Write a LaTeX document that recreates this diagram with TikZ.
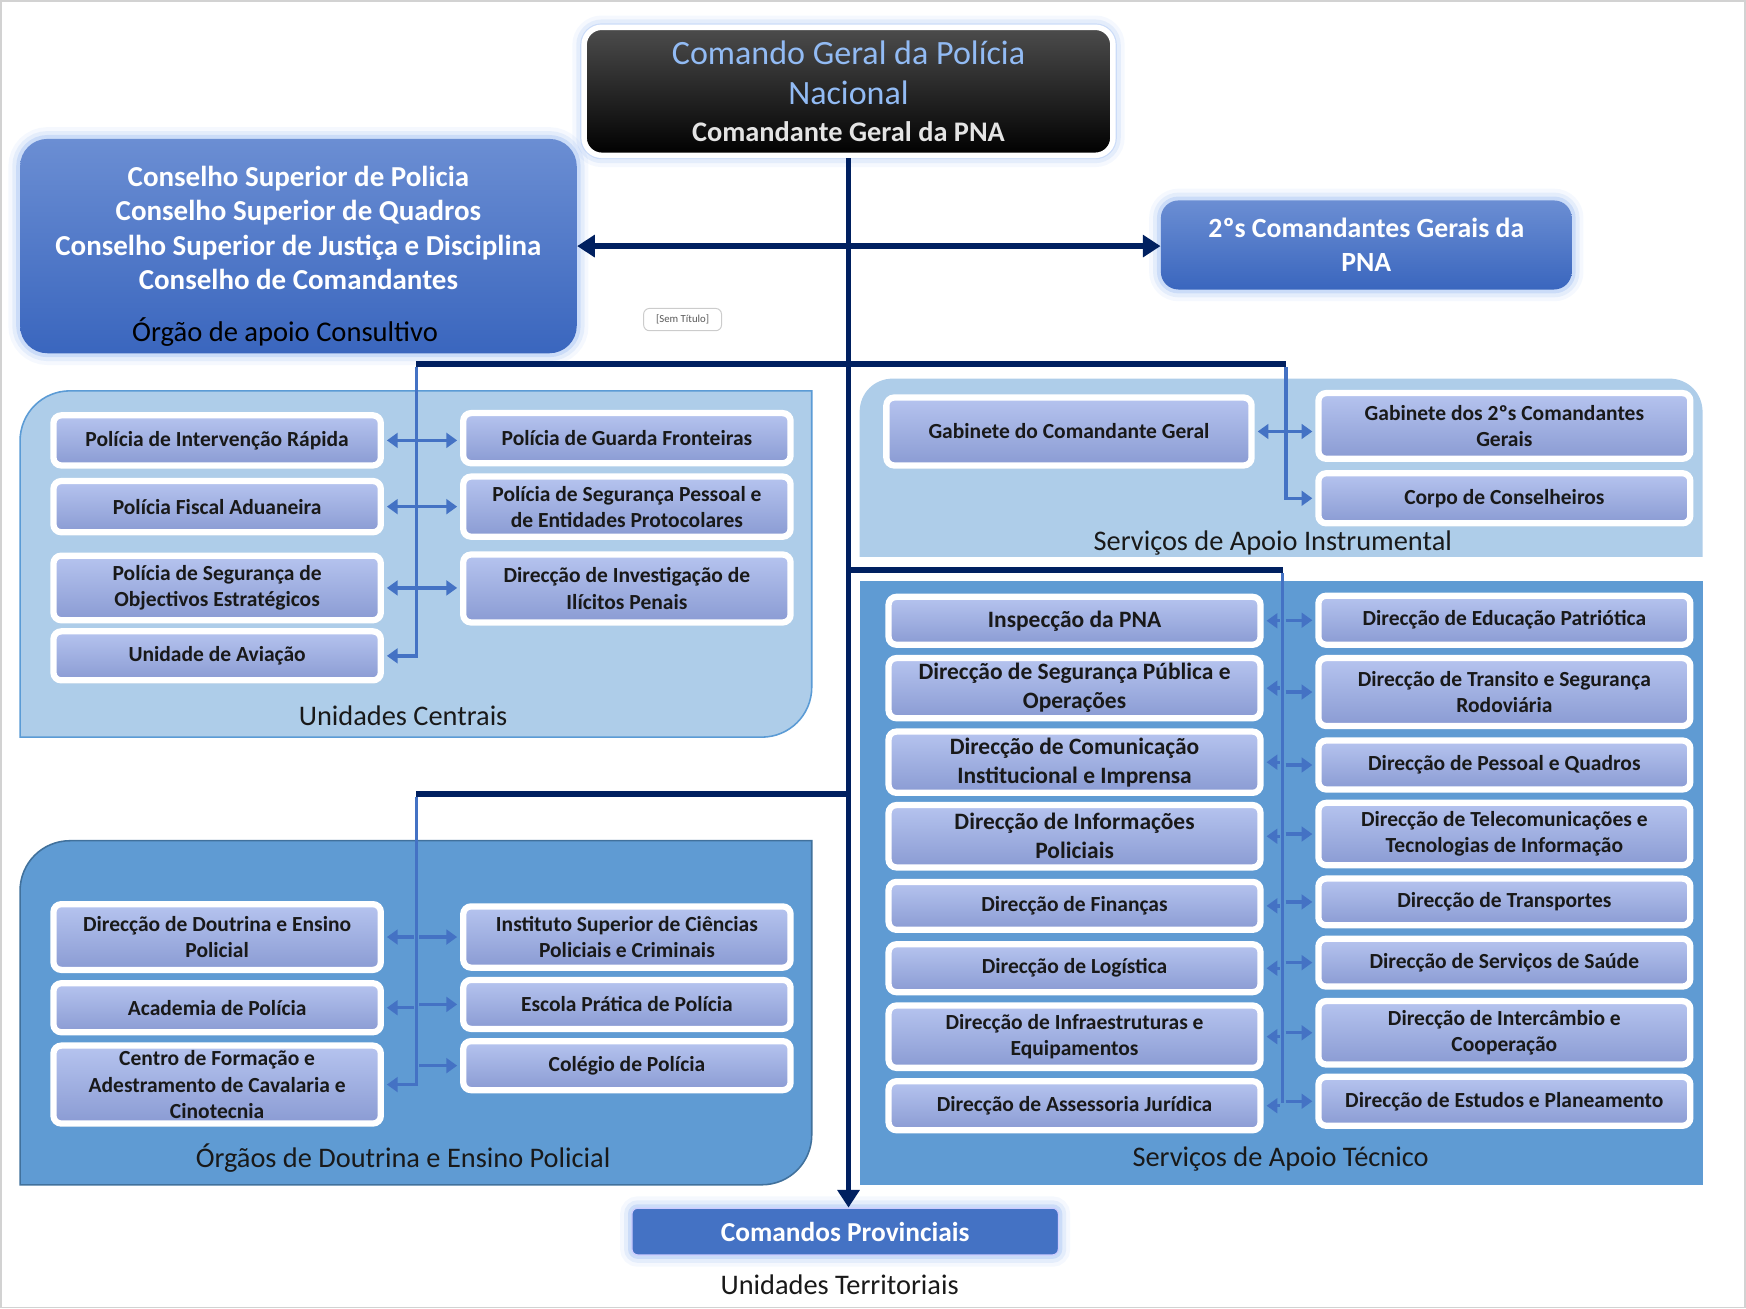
\documentclass[tikz,border=0pt]{standalone}
\usepackage{fontspec}
\setmainfont{Carlito}
\usetikzlibrary{arrows.meta,shadows}

\definecolor{navy}{HTML}{002060}
\definecolor{spineblue}{HTML}{4472C4}
\definecolor{boxtop}{HTML}{B6C4EF}
\definecolor{boxbot}{HTML}{8A9BD3}
\definecolor{panellight}{HTML}{AECDE9}
\definecolor{panelmid}{HTML}{5F9BD3}
\definecolor{paneledge}{HTML}{5B9BD5}
\definecolor{paneldark}{HTML}{41719C}
\definecolor{councilt}{HTML}{6B8ED3}
\definecolor{councilb}{HTML}{3A66BE}
\definecolor{titleblue}{HTML}{92BBF4}
\definecolor{titlegray}{HTML}{E4E4E4}
\definecolor{glowblue}{HTML}{7FA8EE}

\tikzset{
  stip/.tip={Triangle[length=5.5pt,width=7.5pt]},
  ntip/.tip={Triangle[length=9pt,width=11pt]},
  glow/.style={preaction={draw=glowblue,line width=12pt,opacity=0.08},
               preaction={draw=glowblue,line width=8pt,opacity=0.14},
               preaction={draw=glowblue,line width=4pt,opacity=0.25}},
  unitbox/.style 2 args={rectangle, rounded corners=4pt, draw=white, line width=3.2pt,
    top color=boxtop, bottom color=boxbot, minimum width=#1*0.02cm, minimum height=#2*0.02cm,
    inner sep=1pt, align=center, text=black!90, font=\bfseries\fontsize{11}{13.4}\selectfont,
    drop shadow={shadow xshift=0.6pt, shadow yshift=-1.4pt, opacity=0.3}},
  bigunit/.style 2 args={unitbox={#1}{#2}, font=\bfseries\fontsize{12}{14.8}\selectfont},
  navyline/.style={draw=navy, line width=2.8pt},
  spine/.style={draw=spineblue, line width=1.7pt, shorten >=1.5pt, shorten <=1.5pt},
  plabel/.style={font=\fontsize{14.5}{17}\selectfont, text=black!90},
}

\begin{document}
\begin{tikzpicture}[x=0.02cm,y=-0.02cm]
\useasboundingbox (0,0) rectangle (1568,1175);
\draw[gray!35, line width=0.8pt] (1,1) rectangle (1567,1174);

\fill[panellight, draw=paneledge, line width=0.8pt] (18,662) -- (18,396) .. controls (18,371) and (38,351) .. (63,351) -- (729,351) -- (729,617) .. controls (729,642) and (709,662) .. (684,662) -- cycle;
\fill[panelmid, draw=paneldark, line width=0.8pt] (18,1064) -- (18,800) .. controls (18,775) and (38,755) .. (63,755) -- (729,755) -- (729,1019) .. controls (729,1044) and (709,1064) .. (684,1064) -- cycle;
\fill[panellight] (772,500) -- (772,370) .. controls (772,353) and (785,340) .. (802,340) -- (1499,340) .. controls (1516,340) and (1529,353) .. (1529,370) -- (1529,500) -- cycle;
\fill[panelmid] (772,522) rectangle (1529,1064);

\node[plabel] (lbluc) at (362,643) {Unidades Centrais};
\node[plabel] (lblod) at (362,1040) {Órgãos de Doutrina e Ensino Policial};
\node[plabel] (lblsai) at (1143,488) {Serviços de Apoio Instrumental};
\node[plabel] (lblsat) at (1150,1041) {Serviços de Apoio Técnico};
\node[plabel] (lblut) at (754,1154) {Unidades Territoriais};

\node[rectangle, rounded corners=9pt, draw=white, line width=2.8pt, top color=black!70, middle color=black, bottom color=black,
  glow, minimum width=9.5cm, minimum height=2.3cm, align=center, inner sep=2pt, text=titleblue,
  font=\fontsize{17.4}{20.5}\selectfont] (cgpn) at (762,82)
  {Comando Geral da Polícia\\ Nacional\\[-1.2pt]
   {\bfseries\fontsize{14.5}{17}\selectfont\color{titlegray}Comandante Geral da PNA}};

\node[rectangle, rounded corners=14pt, top color=councilt, bottom color=councilb, glow,
  minimum width=10cm, minimum height=3.84cm, align=center, text=white,
  font=\bfseries\fontsize{14.8}{17.6}\selectfont] (cons) at (268,221)
  {\rule{0pt}{21pt}Conselho Superior de Policia\\ Conselho Superior de Quadros\\ Conselho Superior de Justiça e Disciplina\\
   Conselho de Comandantes\\[9pt] \hspace*{-0.48cm}{\mdseries\fontsize{14.6}{17.6}\selectfont\color{black}Órgão de apoio Consultivo}};

\node[rectangle, rounded corners=9pt, top color=councilt, bottom color=councilb, glow,
  minimum width=7.38cm, minimum height=1.6cm, align=center, text=white,
  font=\bfseries\fontsize{14.2}{17.6}\selectfont] (seg) at (1227,220) {2ºs Comandantes Gerais da\\ PNA};

\node[rectangle, rounded corners=3pt, draw=gray!40, line width=0.5pt, fill=white, text=black!65,
  minimum width=1.4cm, minimum height=0.34cm, font=\fontsize{5.5}{6}\selectfont] (semtit) at (613,287) {[Sem Título]};

\node[rectangle, rounded corners=3pt, fill=spineblue, draw=blue!20!white, line width=0.6pt, glow,
  minimum width=7.66cm, minimum height=0.84cm, text=white, font=\bfseries\fontsize{14}{17}\selectfont] (cp) at (759,1106) {Comandos Provinciais};

\node[unitbox={294}{45}] (pir) at (195,395.5) {Polícia de Intervenção Rápida};
\node[unitbox={294}{46}] (pfa) at (195,455) {Polícia Fiscal Aduaneira};
\node[unitbox={294}{58}] (psoe) at (195,528) {Polícia de Segurança de\\ Objectivos Estratégicos};
\node[unitbox={294}{44}] (ua) at (195,589) {Unidade de Aviação};
\node[unitbox={294}{45}] (pgf) at (563,393.5) {Polícia de Guarda Fronteiras};
\node[unitbox={294}{54}] (pspep) at (563,455) {Polícia de Segurança Pessoal e\\ de Entidades Protocolares};
\node[unitbox={294}{61}] (diip) at (563,528.5) {Direcção de Investigação de\\ Ilícitos Penais};

\node[unitbox={328}{61}] (gcg) at (960,387.5) {Gabinete do Comandante Geral};
\node[unitbox={334}{59}] (gscg) at (1351,382.5) {Gabinete dos 2ºs Comandantes\\ Gerais};
\node[unitbox={334}{45}] (cc) at (1351,447.5) {Corpo de Conselheiros};

\node[bigunit={334}{43}] (ipna) at (965,557.5) {Inspecção da PNA};
\node[bigunit={334}{54}] (dspo) at (965,618) {Direcção de Segurança Pública e\\ Operações};
\node[bigunit={334}{55}] (dcii) at (965,684.5) {Direcção de Comunicação\\ Institucional e Imprensa};
\node[bigunit={334}{56}] (dip) at (965,751) {Direcção de Informações\\ Policiais};
\node[unitbox={334}{43}] (dfin) at (965,813.5) {Direcção de Finanças};
\node[unitbox={334}{43}] (dlog) at (965,869.5) {Direcção de Logística};
\node[unitbox={334}{56}] (die) at (965,931) {Direcção de Infraestruturas e\\ Equipamentos};
\node[unitbox={334}{44}] (daj) at (965,993) {Direcção de Assessoria Jurídica};

\node[unitbox={334}{44}] (dep) at (1351,557) {Direcção de Educação Patriótica};
\node[unitbox={334}{61}] (dtsr) at (1351,621.5) {Direcção de Transito e Segurança\\ Rodoviária};
\node[unitbox={334}{44}] (dpq) at (1351,687) {Direcção de Pessoal e Quadros};
\node[unitbox={334}{56}] (dtti) at (1351,749) {Direcção de Telecomunicações e\\ Tecnologias de Informação};
\node[unitbox={334}{42}] (dtra) at (1351,810) {Direcção de Transportes};
\node[unitbox={334}{43}] (dss) at (1351,864.5) {Direcção de Serviços de Saúde};
\node[unitbox={334}{57}] (dic) at (1351,927.5) {Direcção de Intercâmbio e\\ Cooperação};
\node[unitbox={334}{44}] (depl) at (1351,989) {Direcção de Estudos e Planeamento};

\node[unitbox={294}{59}] (ddep) at (195,841.5) {Direcção de Doutrina e Ensino\\ Policial};
\node[unitbox={294}{44}] (acad) at (195,905) {Academia de Polícia};
\node[unitbox={294}{70}] (cfacc) at (195,974) {Centro de Formação e\\ Adestramento de Cavalaria e\\ Cinotecnia};
\node[unitbox={294}{55}] (iscpc) at (563,841.5) {Instituto Superior de Ciências\\ Policiais e Criminais};
\node[unitbox={294}{44}] (epp) at (563,902) {Escola Prática de Polícia};
\node[unitbox={294}{44}] (colp) at (563,957) {Colégio de Polícia};

\coordinate (ucj) at (374,327);
\coordinate (saij) at (1155,327);
\coordinate (satj) at (1152,512);
\coordinate (odj) at (374,713);

\draw[navyline, -{ntip}] (cgpn.south) -- (cgpn.south |- cp.north);
\draw[navyline, {ntip}-{ntip}] (cons.east) -- (cons.east -| seg.west);
\draw[navyline] (ucj) -- (saij);
\draw[navyline] (cgpn.south |- satj) -- (satj);
\draw[navyline] (odj) -- (cgpn.south |- odj);

\draw[spine, -{stip}] (ucj) |- (ua.east);
\draw[spine, {stip}-{stip}] (pir.east) -- (pir.east -| pgf.west);
\draw[spine, {stip}-{stip}] (pfa.east) -- (pfa.east -| pspep.west);
\draw[spine, {stip}-{stip}] (psoe.east) -- (psoe.east -| diip.west);

\draw[spine, -{stip}] (saij) |- (cc.west);
\draw[spine, {stip}-{stip}] (gcg.east) -- (gcg.east -| gscg.west);

\draw[spine] (satj) -- (satj |- daj.east);
\foreach \b in {ipna,dspo,dcii,dip,dfin,dlog,die,daj}
  \draw[spine, -{stip}] (satj |- \b.east) -- (\b.east);
\foreach \b in {dep,dtsr,dpq,dtti,dtra,dss,dic,depl}
  \draw[spine, -{stip}] (satj |- \b.west) -- (\b.west);

\draw[spine, -{stip}] (odj) |- (cfacc.east);
\foreach \b in {ddep,acad}
  \draw[spine, -{stip}] (odj |- \b.east) -- (\b.east);
\foreach \b in {iscpc,epp,colp}
  \draw[spine, -{stip}] (odj |- \b.west) -- (\b.west);
\end{tikzpicture}
\end{document}
